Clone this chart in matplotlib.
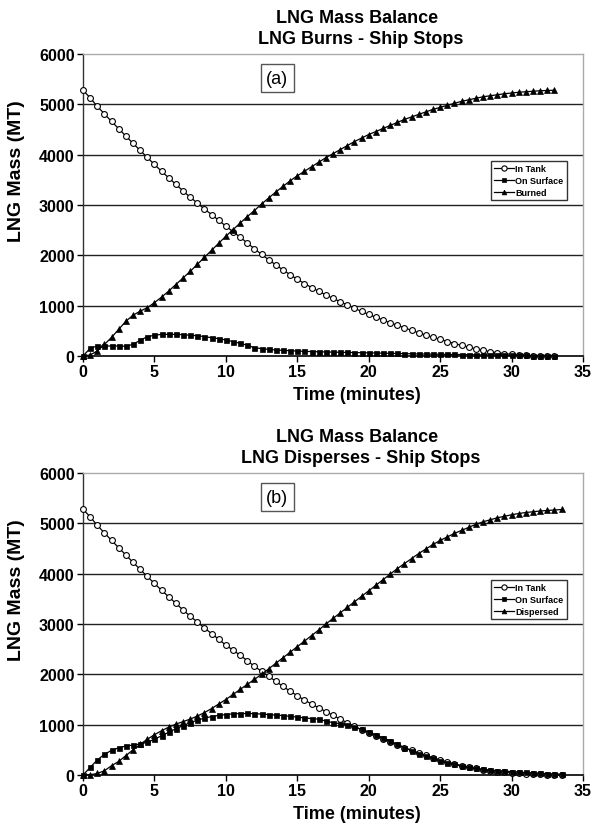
import numpy as np
import matplotlib
matplotlib.use("Agg")
import matplotlib.pyplot as plt

plt.rcParams['font.family'] = ['Liberation Sans', 'DejaVu Sans']

# ---------------- data: panel (a) LNG Burns - Ship Stops ----------------
time_a = np.arange(0, 33.01, 0.5)
tank_a = [5280, 5130, 4960, 4810, 4660, 4515, 4370, 4225, 4085, 3945,
          3805, 3670, 3540, 3410, 3280, 3155, 3040, 2920, 2810, 2695,
          2580, 2470, 2360, 2245, 2130, 2020, 1910, 1810, 1710, 1615,
          1525, 1440, 1360, 1285, 1215, 1145, 1080, 1015, 950, 885,
          825, 770, 715, 660, 610, 560, 510, 462, 415, 372,
          330, 288, 248, 210, 175, 142, 112, 86, 64, 46,
          32, 21, 13, 7, 3, 1, 0]
surface_a = [0, 152, 199, 199, 199, 199, 192, 232, 311, 384,
             411, 430, 430, 430, 424, 411, 404, 384, 364, 344,
             318, 285, 252, 212, 166, 146, 132, 119, 113, 105,
             98, 92, 88, 84, 80, 77, 74, 71, 68, 65,
             62, 59, 56, 53, 50, 47, 44, 41, 38, 36,
             34, 32, 30, 28, 26, 24, 22, 20, 18, 16,
             14, 12, 10, 8, 6, 4, 2]
burned_a = [0, 20, 100, 230, 370, 530, 690, 810, 890, 960,
            1060, 1170, 1290, 1420, 1550, 1680, 1820, 1960, 2100, 2240,
            2380, 2510, 2640, 2770, 2890, 3020, 3140, 3260, 3370, 3480,
            3580, 3670, 3760, 3850, 3940, 4020, 4100, 4180, 4260, 4330,
            4400, 4460, 4520, 4580, 4640, 4700, 4750, 4800, 4850, 4900,
            4940, 4980, 5020, 5060, 5090, 5120, 5150, 5170, 5190, 5210,
            5225, 5240, 5250, 5260, 5270, 5275, 5280]

# ---------------- data: panel (b) LNG Disperses - Ship Stops ----------------
time_b = np.arange(0, 33.51, 0.5)
tank_b = [5280, 5130, 4960, 4810, 4660, 4515, 4370, 4225, 4085, 3945,
          3805, 3670, 3540, 3410, 3280, 3155, 3040, 2920, 2810, 2695,
          2580, 2480, 2380, 2270, 2160, 2060, 1960, 1860, 1760, 1665,
          1575, 1490, 1410, 1335, 1260, 1185, 1110, 1040, 970, 900,
          840, 780, 720, 660, 600, 545, 490, 440, 390, 345,
          300, 260, 222, 188, 158, 130, 106, 85, 68, 53,
          40, 30, 22, 15, 10, 6, 3, 0]
surface_b = [0, 150, 300, 410, 490, 540, 575, 595, 615, 650,
             710, 780, 850, 920, 980, 1040, 1090, 1130, 1160, 1185,
             1200, 1215, 1220, 1222, 1220, 1210, 1200, 1190, 1180, 1165,
             1150, 1135, 1120, 1110, 1070, 1040, 1020, 1000, 950, 905,
             860, 800, 740, 680, 610, 545, 480, 425, 375, 330,
             285, 245, 210, 175, 150, 130, 115, 100, 88, 78,
             68, 58, 50, 42, 35, 28, 22, 18]
dispersed_b = [0, 5, 30, 85, 185, 270, 385, 500, 610, 710,
               800, 880, 950, 1010, 1060, 1110, 1170, 1240, 1320, 1410,
               1500, 1600, 1700, 1800, 1900, 2000, 2110, 2220, 2330, 2440,
               2550, 2660, 2770, 2880, 3000, 3110, 3220, 3330, 3440, 3550,
               3660, 3770, 3880, 3990, 4100, 4200, 4300, 4400, 4490, 4580,
               4660, 4730, 4800, 4860, 4920, 4980, 5030, 5070, 5110, 5140,
               5170, 5195, 5215, 5230, 5245, 5255, 5265, 5275]

title_line1 = ["LNG Mass Balance", "LNG Mass Balance"]
title_line2 = ["LNG Burns - Ship Stops", "LNG Disperses - Ship Stops"]
panel_tags = ["(a)", "(b)"]
labels_a = ["In Tank", "On Surface", "Burned"]
labels_b = ["In Tank", "On Surface", "Dispersed"]
yticks = [0, 1000, 2000, 3000, 4000, 5000, 6000]
xticks = [0, 5, 10, 15, 20, 25, 30, 35]

fig = plt.figure(figsize=(5.92, 8.29), dpi=100)
W, H = 592, 829

def px_axes(left, top, right, bottom):
    return fig.add_axes([left / W, 1 - bottom / H, (right - left) / W, (bottom - top) / H])

axes = [px_axes(83, 55, 583, 357), px_axes(83, 474, 583, 776)]
panels = [(time_a, [tank_a, surface_a, burned_a], labels_a),
          (time_b, [tank_b, surface_b, dispersed_b], labels_b)]
offsets = [0, 419]

for i, (ax, (t, series, labs)) in enumerate(zip(axes, panels)):
    off = offsets[i]
    styles = [dict(marker='o', mfc='white', mec='black', ms=4.2, mew=0.8),
              dict(marker='s', mfc='black', mec='black', ms=3.6, mew=0.5),
              dict(marker='^', mfc='black', mec='black', ms=3.8, mew=0.5)]
    handles = []
    for s, st, lab in zip(series, styles, labs):
        h, = ax.plot(t, s, color='black', lw=0.9, label=lab, zorder=3, clip_on=False, **st)
        handles.append(h)
    ax.set_xlim(0, 35)
    ax.set_ylim(0, 6000)
    ax.set_xticks(xticks)
    ax.set_yticks(yticks)
    for yv in yticks[1:-1]:
        ax.axhline(yv, color='#222222', lw=1.0, zorder=1)
    for side in ['top', 'right']:
        ax.spines[side].set_color('#aaaaaa')
        ax.spines[side].set_linewidth(1.0)
    ax.spines['left'].set_color('#333333')
    ax.spines['bottom'].set_color('black')
    ax.spines['left'].set_linewidth(1.0)
    ax.spines['bottom'].set_linewidth(1.2)
    ax.tick_params(axis='both', direction='out', length=4, width=1, labelsize=11.5, pad=2)
    for lbl in ax.get_xticklabels() + ax.get_yticklabels():
        lbl.set_fontweight('bold')
    fig.text(357 / W, 1 - (396 + off) / H, "Time (minutes)", ha='center', va='center',
             fontsize=13, fontweight='bold')
    fig.text(17 / W, 1 - (171 + off) / H, "LNG Mass (MT)", ha='center', va='center',
             rotation=90, fontsize=14, fontweight='bold')
    fig.text(357 / W, 1 - (23 + off) / H, title_line1[i], ha='center', va='baseline',
             fontsize=13, fontweight='bold')
    fig.text(361 / W, 1 - (44 + off) / H, title_line2[i], ha='center', va='baseline',
             fontsize=13, fontweight='bold')
    ax.text(13.6, 5520, panel_tags[i], ha='center', va='center', fontsize=13,
            bbox=dict(boxstyle='square,pad=0.3', fc='white', ec='#555555', lw=1.0), zorder=4)
    leg = ax.legend(handles=handles, loc='upper left', bbox_to_anchor=(0.815, 0.645),
                    fontsize=6.5, frameon=True, fancybox=False, edgecolor='black',
                    handlelength=2.2, handletextpad=0.2, borderpad=0.35, labelspacing=0.3,
                    borderaxespad=0, markerscale=0.9)
    leg.get_frame().set_linewidth(1.0)
    for txt in leg.get_texts():
        txt.set_fontweight('bold')

fig.savefig("out.png", dpi=100)
